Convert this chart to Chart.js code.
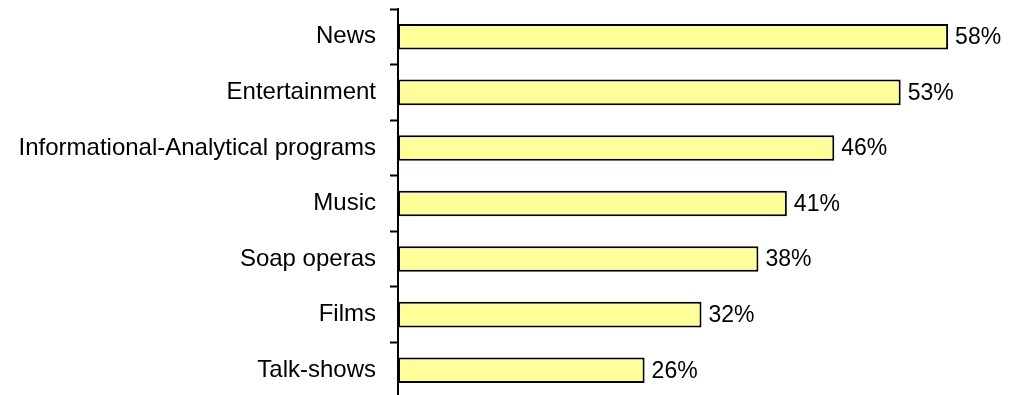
<!DOCTYPE html>
<html lang="en">
<head>
    <meta charset="UTF-8">
    <title>TV program preferences</title>
    <script src="https://cdn.jsdelivr.net/npm/chart.js"></script>
    <style>
        html, body {
            margin: 0;
            padding: 0;
            background: #fff;
            overflow: hidden;
        }
        #wrap {
            width: 1011px;
            height: 398px;
        }
    </style>
</head>
<body>
    <div id="wrap">
        <canvas id="myChart"></canvas>
    </div>

    <script>
        // categories and values (percent)
        const categories = [
            "News", "Entertainment", "Informational-Analytical programs",
            "Music", "Soap operas", "Films", "Talk-shows"
        ];
        const shares = [58, 53, 46, 41, 38, 32, 26];

        const FONT = "Arial, 'Liberation Sans', sans-serif";

        // value labels at the end of each bar
        const endLabels = {
            id: 'endLabels',
            afterDatasetsDraw(chart) {
                const ctx = chart.ctx;
                const meta = chart.getDatasetMeta(0);
                ctx.save();
                ctx.font = '23px ' + FONT;
                ctx.fillStyle = '#000';
                ctx.textAlign = 'left';
                ctx.textBaseline = 'middle';
                meta.data.forEach((bar, i) => {
                    ctx.fillText(shares[i] + '%', bar.x + 7, bar.y + 1);
                });
                ctx.restore();
            }
        };

        const ctx = document.getElementById('myChart').getContext('2d');
        new Chart(ctx, {
            type: 'bar',
            data: {
                labels: categories,
                datasets: [{
                    data: shares,
                    backgroundColor: '#FFFF99',
                    borderColor: '#000',
                    borderWidth: 2,
                    borderSkipped: false,
                    categoryPercentage: 1,
                    barPercentage: 0.46
                }]
            },
            options: {
                indexAxis: 'y',
                responsive: true,
                maintainAspectRatio: false,
                animation: false,
                layout: { padding: { top: 9, right: 6, bottom: 0, left: 0 } },
                plugins: {
                    legend: { display: false },
                    tooltip: { enabled: false }
                },
                scales: {
                    x: {
                        display: false,
                        min: 0,
                        max: 64
                    },
                    y: {
                        afterFit(scale) {
                            scale.width = 398;
                            scale.paddingTop = 0;
                            scale.paddingBottom = 0;
                        },
                        border: { display: true, color: '#000', width: 2 },
                        grid: {
                            display: true,
                            offset: true,
                            drawOnChartArea: false,
                            drawTicks: true,
                            tickLength: 8,
                            tickWidth: 2,
                            tickColor: '#000'
                        },
                        ticks: {
                            color: '#000',
                            padding: 14,
                            font: { family: FONT, size: 24 }
                        }
                    }
                }
            },
            plugins: [endLabels]
        });
    </script>
</body>
</html>
